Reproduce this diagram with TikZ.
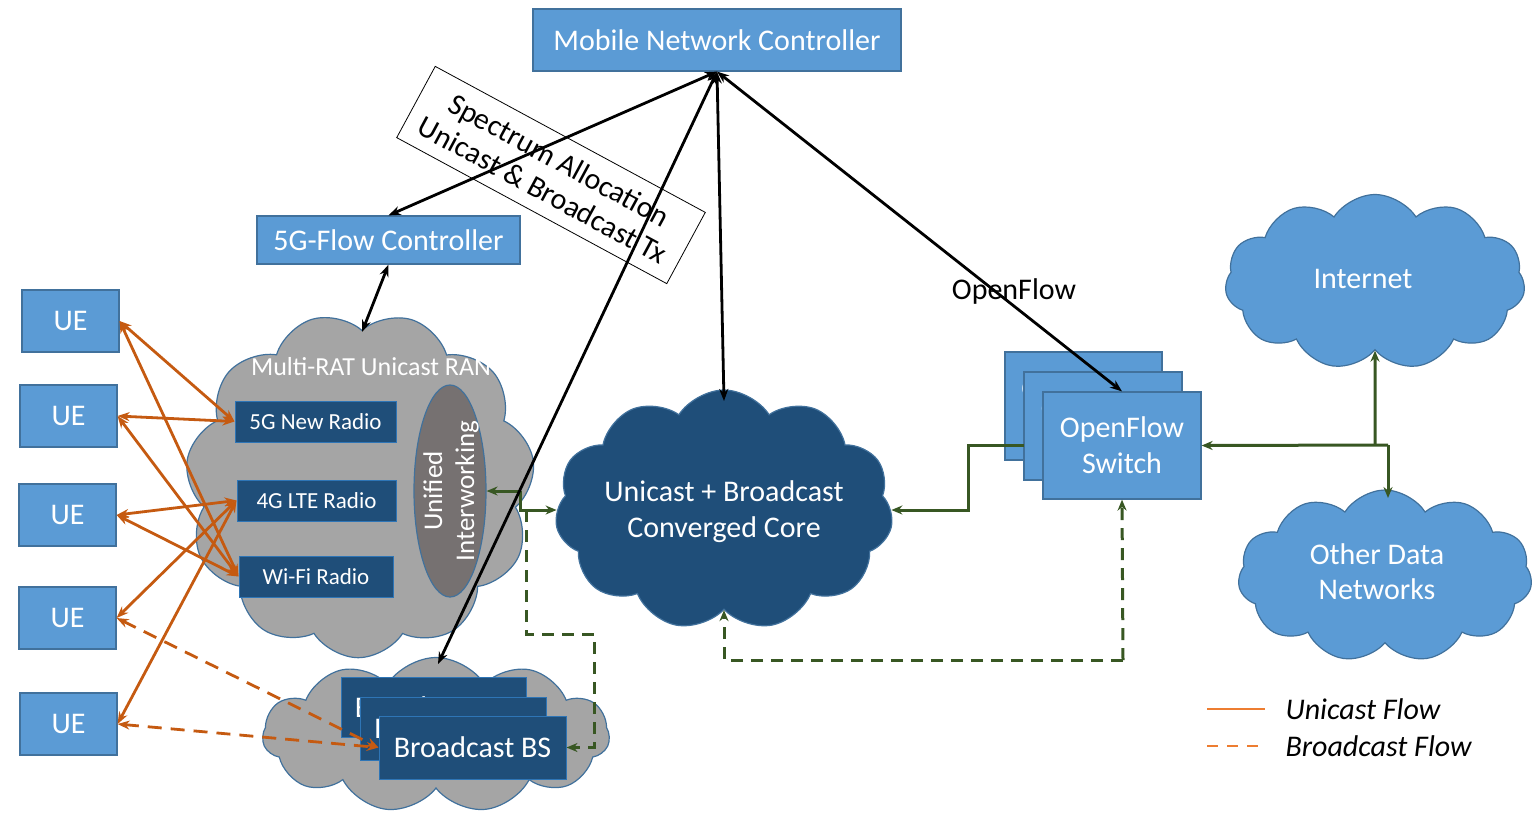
\documentclass[tikz,border=0pt]{standalone}
\usepackage{fontspec}
\setmainfont{Carlito}
\usetikzlibrary{shapes.symbols,shapes.geometric,arrows.meta,calc}
\definecolor{lblue}{HTML}{5B9BD5}
\definecolor{bord}{HTML}{41719C}
\definecolor{dblue}{HTML}{1F4E79}
\definecolor{rbord}{HTML}{2E75B6}
\definecolor{cgray}{HTML}{A5A5A5}
\definecolor{egray}{HTML}{767171}
\definecolor{orng}{HTML}{C55A11}
\definecolor{lorng}{HTML}{ED7D31}
\definecolor{grn}{HTML}{385723}
\tikzset{
  lbox/.style={draw=bord, fill=lblue, line width=1.2pt, text=white, inner sep=0pt, align=center},
  rbox/.style={draw=rbord, fill=dblue, line width=1pt, text=white, inner sep=0pt, font=\fontsize{23}{27}\selectfont},
  bsbox/.style={draw=rbord, fill=dblue, line width=1pt, text=white, inner sep=0pt},
  cloudy/.style={cloud, cloud puffs=11, cloud puff arc=115, draw=bord, line width=1.2pt, inner sep=0pt},
  blk/.style={line width=2.8pt, black, {Stealth[length=12pt,width=9pt]}-{Stealth[length=12pt,width=9pt]}},
  uni/.style={line width=2.8pt, orng, {Stealth[length=12pt,width=9pt]}-{Stealth[length=12pt,width=9pt]}},
  bcast/.style={uni, dash pattern=on 14pt off 9pt},
  gline/.style={line width=3pt, grn, -{Stealth[length=11pt,width=9pt]}},
  gdash/.style={gline, dash pattern=on 12pt off 8pt},
}
\begin{document}
\begin{tikzpicture}[x=1pt,y=-1pt, font=\fontsize{30}{36}\selectfont]
\useasboundingbox (0,0) rectangle (1532,815);
% clouds
\node[cloudy, fill=cgray, minimum width=350pt, minimum height=345pt, rotate=16] (ran) at (360,485) {};
\node[cloudy, fill=cgray, minimum width=347pt, minimum height=155pt] (bcloud) at (436,735) {};
\node[cloudy, fill=dblue, minimum width=338pt, minimum height=240pt] (core) at (724,510) {};
\node[cloudy, fill=lblue, minimum width=300pt, minimum height=175pt] (inet) at (1375,282) {};
\node[cloudy, fill=lblue, minimum width=294pt, minimum height=172pt] (other) at (1385,576) {};
\node[text=white, align=center] (corelbl) at (724,512) {Unicast + Broadcast\\Converged Core};
\node[text=white] (inetlbl) at (1363,279) {Internet};
\node[text=white, align=center, font=\fontsize{30}{35}\selectfont] (othlbl) at (1377,572) {Other Data\\Networks};
% boxes
\node[lbox, minimum width=368pt, minimum height=62pt] (mnc) at (717,40) {Mobile Network Controller};
\node[lbox, minimum width=263pt, minimum height=48pt] (fc) at (388.5,240) {5G-Flow Controller};
\node[lbox, minimum width=97pt, minimum height=62pt] (ue1) at (70.5,321) {UE};
\node[lbox, minimum width=97pt, minimum height=62pt] (ue2) at (68.5,416) {UE};
\node[lbox, minimum width=97pt, minimum height=62pt] (ue3) at (67.5,515) {UE};
\node[lbox, minimum width=97pt, minimum height=62pt] (ue4) at (67.5,618) {UE};
\node[lbox, minimum width=97pt, minimum height=62pt] (ue5) at (68.5,724) {UE};
\node[rbox, minimum width=161pt, minimum height=41pt] (r5g) at (315.5,421.5) {5G New Radio};
\node[rbox, minimum width=159pt, minimum height=41pt] (r4g) at (316.5,500.5) {4G LTE Radio};
\node[rbox, minimum width=154pt, minimum height=41pt] (rwifi) at (316,576.5) {Wi-Fi Radio};
\node[ellipse, draw=bord, fill=egray, line width=1.2pt, minimum width=72pt, minimum height=212pt, inner sep=0pt] (iw) at (450,491) {};
\node[text=white, rotate=90, align=center, font=\fontsize{27}{32}\selectfont] (iwlbl) at (451,491) {Unified\\Interworking};
\node[text=white, font=\fontsize{26}{30}\selectfont, inner sep=0pt] (ranlbl) at (371,367) {Multi-RAT Unicast RAN};
\node[bsbox, minimum width=185pt, minimum height=60pt] (bs1) at (433.5,707) {Broadcast BS};
\node[bsbox, minimum width=186pt, minimum height=63pt] (bs2) at (453,728.5) {Broadcast BS};
\node[bsbox, minimum width=187pt, minimum height=63pt] (bs3) at (472.5,747.5) {Broadcast BS};
\node[lbox, minimum width=157pt, minimum height=108pt] (sw1) at (1083.5,406) {OpenFlow\\Switch};
\node[lbox, minimum width=158pt, minimum height=108pt] (sw2) at (1103,426) {OpenFlow\\Switch};
\node[lbox, minimum width=158pt, minimum height=107pt] (sw3) at (1122,445.5) {OpenFlow\\Switch};
% spectrum label
\node[draw=black, line width=0.8pt, rotate=-28.4, minimum width=307pt, minimum height=81pt, align=center, inner sep=0pt, font=\fontsize{30}{34}\selectfont] (spec) at (551,175) {Spectrum Allocation\\Unicast \& Broadcast Tx};
\node (oflbl) at (1014,291) {OpenFlow};
% coordinates
\coordinate (bstop) at (438,664);
\coordinate (coretop) at (724,401);
\coordinate (rantop) at (362,332);
\coordinate (gj) at (520,491);
\coordinate (gd) at (526,510);
\coordinate (gd1) at (526,634);
\coordinate (gd2) at (594,634);
\coordinate (swl) at (1024,445);
\coordinate (swk) at (968,445);
\coordinate (rj) at (1388,445);
\coordinate (ij) at (1375,445);
\coordinate (othtop) at (1388,498);
\coordinate (db) at (1123,660);
% green
\draw[gline] (gj) -- (iw.east);
\draw[gline] (gj) |- (core.west);
\draw[gdash] (gd) -- (gd1) -- (gd2) |- (bs3.east);
\draw[gline] (swl) -- (swk) |- (core.east);
\draw[gline] (rj) -- (sw3.east);
\draw[gline] (ij) -- (inet.south);
\draw[gline] (rj) -- (othtop);
\draw[gdash] (db) -- (sw3.south);
\draw[gdash] (db) -| (core.south);
% orange
\draw[uni] (ue1.east) -- (r5g.west);
\draw[uni] (ue1.east) -- (rwifi.west);
\draw[uni] (ue2.east) -- (r5g.west);
\draw[uni] (ue2.east) -- (rwifi.west);
\draw[uni] (ue3.east) -- (r4g.west);
\draw[uni] (ue3.east) -- (rwifi.west);
\draw[uni] (ue4.east) -- (r4g.west);
\draw[uni] (ue5.east) -- (r4g.west);
\draw[bcast] (ue4.east) -- (bs3.west);
\draw[bcast] (ue5.east) -- (bs3.west);
% black
\draw[blk] (mnc.south) -- (fc.north);
\draw[blk] (mnc.south) -- (bstop);
\draw[blk] (mnc.south) -- (coretop);
\draw[blk] (mnc.south) -- (sw3.north);
\draw[blk] (fc.south) -- (rantop);
% legend
\coordinate (l1a) at (1207,709);
\coordinate (l1b) at (1265,709);
\coordinate (l2a) at (1207,746);
\coordinate (l2b) at (1265,746);
\draw[lorng, line width=2.8pt] (l1a) -- (l1b);
\draw[lorng, line width=2.8pt, dash pattern=on 11pt off 9pt] (l2a) -- (l2b);
\node[anchor=west, font=\fontsize{30}{36}\selectfont\itshape] (leg1) at (1282,709) {Unicast Flow};
\node[anchor=west, font=\fontsize{30}{36}\selectfont\itshape] (leg2) at (1282,746) {Broadcast Flow};
\end{tikzpicture}
\end{document}
